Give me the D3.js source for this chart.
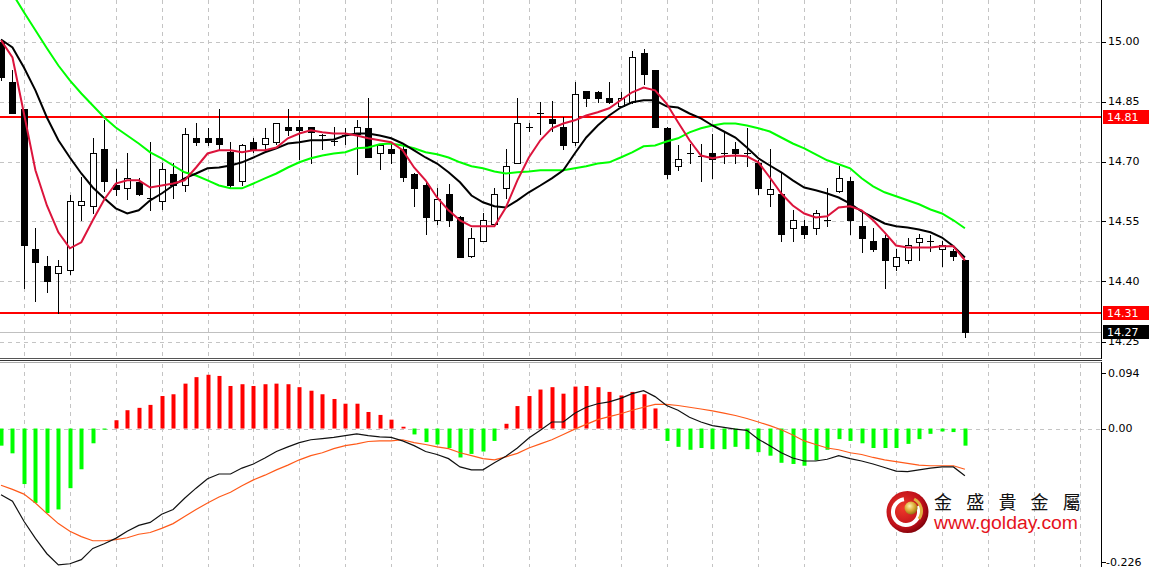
<!DOCTYPE html>
<html><head><meta charset="utf-8">
<script src="https://cdn.jsdelivr.net/npm/d3@7"></script>
<style>body{margin:0;background:#fff;overflow:hidden}svg{display:block}</style>
</head><body><svg id="c" width="1151" height="567"></svg>
<script>
// ---- data ----
const opens=[15.00,14.8975,14.8325,14.4825,14.44,14.4225,14.43,14.5925,14.59,14.7325,
14.64,14.6325,14.6475,14.61,14.6025,14.67,14.64,14.76,14.76,14.76,
14.7225,14.6525,14.7475,14.745,14.7475,14.7875,14.7875,14.7875,14.765,14.7525,
14.765,14.77,14.7825,14.72,14.7325,14.7325,14.67,14.64,14.5525,14.62,
14.56,14.4625,14.5025,14.545,14.6325,14.695,14.7875,14.82,14.8075,14.785,
14.7475,14.8775,14.8725,14.86,14.84,14.8475,14.97,14.9275,14.7825,14.69,
14.72,14.715,14.72,14.72,14.7325,14.72,14.6975,14.62,14.62,14.5325,
14.54,14.5325,14.555,14.6275,14.6525,14.54,14.5025,14.51,14.44,14.4525,
14.50,14.5025,14.4825,14.4775,14.4525];
const highs=[15.005,14.9275,14.8325,14.5325,14.4625,14.455,14.615,14.66,14.76,14.8025,
14.6825,14.72,14.6575,14.7475,14.6975,14.6975,14.7825,14.7975,14.7825,14.8325,
14.7475,14.745,14.7575,14.7825,14.7975,14.8325,14.8025,14.7875,14.77,14.785,
14.7825,14.8025,14.86,14.74,14.745,14.745,14.6725,14.6525,14.6325,14.645,
14.565,14.5325,14.57,14.6325,14.7325,14.86,14.7975,14.8475,14.8525,14.81,
14.8975,14.8775,14.8775,14.8975,14.8725,14.9775,14.9825,14.9275,14.785,14.74,
14.745,14.745,14.77,14.7725,14.7475,14.7825,14.7025,14.7325,14.6725,14.5775,
14.5525,14.5775,14.6325,14.69,14.66,14.57,14.5325,14.515,14.4825,14.5075,
14.52,14.515,14.5025,14.4825,14.4525];
const lows=[14.905,14.82,14.3825,14.3525,14.3725,14.32,14.42,14.5525,14.5725,14.6275,
14.615,14.6075,14.615,14.5775,14.5825,14.61,14.6275,14.74,14.74,14.7325,
14.635,14.64,14.7225,14.7325,14.745,14.765,14.7075,14.6975,14.7325,14.74,
14.745,14.67,14.71,14.6825,14.6975,14.6525,14.59,14.52,14.545,14.54,
14.46,14.46,14.5025,14.545,14.61,14.695,14.7775,14.77,14.7775,14.7325,
14.74,14.8375,14.8475,14.845,14.835,14.845,14.895,14.785,14.6575,14.6775,
14.6975,14.6525,14.6575,14.695,14.6975,14.69,14.62,14.59,14.5025,14.5025,
14.51,14.52,14.54,14.6225,14.52,14.4725,14.4775,14.3825,14.4275,14.4475,
14.4525,14.4775,14.44,14.4525,14.2625];
const closes=[14.91,14.82,14.49,14.45,14.4025,14.44,14.6025,14.6025,14.72,14.6525,
14.63,14.6575,14.62,14.61,14.6825,14.64,14.77,14.7475,14.7475,14.745,
14.64,14.74,14.7325,14.76,14.7975,14.78,14.78,14.7725,14.765,14.7525,
14.765,14.7875,14.71,14.74,14.72,14.66,14.6325,14.56,14.6075,14.5525,
14.46,14.51,14.5525,14.62,14.69,14.7975,14.7875,14.82,14.7975,14.74,
14.87,14.86,14.86,14.8475,14.86,14.96,14.92,14.785,14.67,14.7075,
14.72,14.715,14.7075,14.72,14.72,14.72,14.6325,14.63,14.52,14.5525,
14.52,14.57,14.555,14.6575,14.5525,14.51,14.48,14.4525,14.46,14.49,
14.51,14.5025,14.49,14.4625,14.2725];
const maFast=[15.003,14.96,14.82,14.678,14.59,14.523,14.483,14.498,14.553,14.605,
14.645,14.653,14.653,14.635,14.64,14.645,14.653,14.685,14.72,14.728,
14.728,14.723,14.728,14.728,14.735,14.758,14.77,14.778,14.773,14.77,
14.77,14.765,14.758,14.753,14.748,14.728,14.685,14.653,14.61,14.578,
14.553,14.538,14.538,14.538,14.585,14.653,14.71,14.753,14.783,14.795,
14.803,14.815,14.823,14.833,14.853,14.873,14.885,14.878,14.845,14.798,
14.753,14.715,14.708,14.713,14.715,14.713,14.698,14.66,14.62,14.59,
14.57,14.56,14.563,14.585,14.588,14.578,14.553,14.523,14.49,14.485,
14.485,14.485,14.488,14.488,14.453];
const maMid=[15.005,14.985,14.935,14.878,14.81,14.753,14.71,14.67,14.635,14.608,
14.583,14.57,14.578,14.603,14.62,14.64,14.658,14.67,14.683,14.685,
14.69,14.698,14.71,14.723,14.733,14.745,14.748,14.753,14.753,14.755,
14.765,14.77,14.77,14.765,14.758,14.745,14.728,14.71,14.695,14.673,
14.648,14.615,14.598,14.588,14.585,14.603,14.623,14.64,14.658,14.678,
14.72,14.76,14.79,14.815,14.835,14.848,14.853,14.853,14.838,14.835,
14.82,14.808,14.79,14.775,14.76,14.735,14.708,14.69,14.673,14.653,
14.635,14.628,14.62,14.61,14.595,14.575,14.56,14.545,14.538,14.535,
14.53,14.523,14.51,14.488,14.46];
const maSlow=[15.165,15.12,15.073,15.028,14.983,14.94,14.903,14.87,14.84,14.81,
14.785,14.765,14.745,14.723,14.708,14.69,14.673,14.665,14.653,14.64,
14.633,14.633,14.645,14.658,14.67,14.685,14.698,14.708,14.715,14.72,
14.723,14.733,14.735,14.743,14.745,14.74,14.733,14.723,14.718,14.71,
14.698,14.688,14.683,14.675,14.67,14.673,14.675,14.678,14.678,14.678,
14.683,14.688,14.695,14.698,14.71,14.723,14.738,14.74,14.75,14.758,
14.773,14.783,14.79,14.795,14.795,14.79,14.783,14.775,14.76,14.745,
14.733,14.718,14.703,14.693,14.683,14.658,14.638,14.623,14.613,14.603,
14.593,14.58,14.57,14.553,14.533];
const macdHist=[-0.029,-0.042,-0.094,-0.126,-0.143,-0.137,-0.101,-0.069,-0.025,-0.002,
0.014,0.031,0.035,0.040,0.055,0.058,0.076,0.087,0.091,0.089,
0.072,0.075,0.072,0.075,0.076,0.075,0.070,0.064,0.058,0.050,
0.042,0.042,0.028,0.023,0.015,0.003,-0.010,-0.023,-0.027,-0.033,
-0.049,-0.043,-0.039,-0.021,0.008,0.038,0.055,0.066,0.070,0.059,
0.071,0.072,0.070,0.062,0.056,0.062,0.058,0.034,-0.021,-0.031,
-0.036,-0.033,-0.035,-0.035,-0.031,-0.035,-0.040,-0.046,-0.058,-0.060,
-0.063,-0.054,-0.036,-0.018,-0.021,-0.025,-0.033,-0.033,-0.033,-0.026,
-0.018,-0.009,-0.005,-0.006,-0.029];
const macdMain=[-0.112,-0.123,-0.157,-0.186,-0.212,-0.231,-0.229,-0.222,-0.203,-0.195,
-0.186,-0.174,-0.164,-0.159,-0.145,-0.137,-0.118,-0.101,-0.085,-0.077,
-0.077,-0.067,-0.060,-0.050,-0.039,-0.031,-0.024,-0.019,-0.017,-0.015,
-0.012,-0.009,-0.012,-0.014,-0.015,-0.021,-0.029,-0.039,-0.044,-0.051,
-0.065,-0.070,-0.070,-0.058,-0.047,-0.033,-0.016,-0.003,0.011,0.011,
0.026,0.036,0.042,0.045,0.051,0.059,0.064,0.054,0.039,0.031,
0.019,0.011,0.005,0.002,-0.001,-0.003,-0.018,-0.029,-0.041,-0.050,
-0.055,-0.055,-0.052,-0.046,-0.051,-0.055,-0.060,-0.066,-0.072,-0.073,
-0.070,-0.067,-0.065,-0.065,-0.080];
const macdSignal=[-0.096,-0.103,-0.111,-0.126,-0.144,-0.161,-0.174,-0.183,-0.190,-0.190,
-0.188,-0.185,-0.179,-0.176,-0.169,-0.161,-0.149,-0.137,-0.126,-0.116,
-0.108,-0.097,-0.087,-0.079,-0.070,-0.062,-0.053,-0.046,-0.041,-0.034,
-0.029,-0.026,-0.022,-0.021,-0.021,-0.019,-0.024,-0.027,-0.031,-0.034,
-0.041,-0.046,-0.051,-0.053,-0.048,-0.042,-0.033,-0.026,-0.019,-0.010,
-0.001,0.007,0.015,0.020,0.025,0.031,0.036,0.041,0.041,0.039,
0.036,0.033,0.030,0.026,0.022,0.017,0.011,0.005,-0.002,-0.011,
-0.021,-0.027,-0.033,-0.036,-0.041,-0.044,-0.049,-0.053,-0.056,-0.059,
-0.062,-0.063,-0.063,-0.063,-0.069];
const priceTicks=[15.00,14.85,14.70,14.55,14.40,14.25];
const macdTicks=[0.094,0.00,-0.226];
const macdTickLabels=["0.094","0.00","-0.226"];
const levelValues=[14.81,14.321];
const levelLabels=["14.81","14.31"];
const brandName="金盛貴金屬";
const brandUrl="www.golday.com";

// ---- layout ----
const W=1151,H=567,AX=1101,mainBottom=358,subTop=363;
const svg=d3.select("#c");
const n=closes.length;
const x=d3.scaleLinear().domain([0,n-1]).range([1,964.9]);
const yP=d3.scaleLinear().domain([14.25,15.00]).range([341.5,41.5]);
const yM=d3.scaleLinear().domain([-0.226,0.094]).range([562,373]);
const px=v=>Math.round(v)+0.5;

const defs=svg.append("defs");
defs.append("clipPath").attr("id","cm").append("rect").attr("x",0).attr("y",0).attr("width",AX).attr("height",mainBottom);
defs.append("clipPath").attr("id","cs").append("rect").attr("x",0).attr("y",subTop).attr("width",AX).attr("height",H-subTop);
const rg=defs.append("radialGradient").attr("id","rg").attr("cx","40%").attr("cy","40%").attr("r","65%");
rg.append("stop").attr("offset","0%").attr("stop-color","#f03a2a");
rg.append("stop").attr("offset","70%").attr("stop-color","#c0101a");
rg.append("stop").attr("offset","100%").attr("stop-color","#7a0008");
const gg=defs.append("radialGradient").attr("id","gg").attr("cx","40%").attr("cy","35%").attr("r","70%");
gg.append("stop").attr("offset","0%").attr("stop-color","#fff3b0");
gg.append("stop").attr("offset","55%").attr("stop-color","#d8a830");
gg.append("stop").attr("offset","100%").attr("stop-color","#8a6410");

// grid
const gridC="#c4c4c4";
const vIdx=d3.range(2,96,4);
const grid=svg.append("g").attr("stroke",gridC).attr("stroke-width",1).attr("stroke-dasharray","4,4");
grid.selectAll(".vm").data(vIdx).join("line").attr("x1",d=>px(x(d))).attr("x2",d=>px(x(d))).attr("y1",0).attr("y2",mainBottom-1);
grid.selectAll(".vs").data(vIdx).join("line").attr("x1",d=>px(x(d))).attr("x2",d=>px(x(d))).attr("y1",subTop+1).attr("y2",H);
grid.selectAll(".hm").data(priceTicks).join("line").attr("x1",0).attr("x2",AX).attr("y1",d=>px(yP(d))).attr("y2",d=>px(yP(d)));
grid.append("line").attr("x1",0).attr("x2",AX).attr("y1",px(yM(0))).attr("y2",px(yM(0)));

// main panel
const main=svg.append("g").attr("clip-path","url(#cm)");
main.append("line").attr("x1",0).attr("x2",AX).attr("y1",px(yP(closes[n-1]))).attr("y2",px(yP(closes[n-1]))).attr("stroke","#c0c0c0");
main.selectAll(".lvl").data(levelValues).join("line").attr("x1",0).attr("x2",AX)
  .attr("y1",d=>Math.round(yP(d))).attr("y2",d=>Math.round(yP(d))).attr("stroke","#ff0000").attr("stroke-width",2);

// candles
const cg=main.append("g");
d3.range(n).forEach(i=>{
  const cx=px(x(i));
  cg.append("line").attr("x1",cx).attr("x2",cx).attr("y1",Math.round(yP(highs[i]))).attr("y2",Math.round(yP(lows[i]))+1).attr("stroke","#000");
  const yo=Math.round(yP(opens[i])), yc=Math.round(yP(closes[i]));
  const top=Math.min(yo,yc), h=Math.abs(yo-yc);
  if(h<1){
    cg.append("line").attr("x1",cx-3.5).attr("x2",cx+3.5).attr("y1",top+0.5).attr("y2",top+0.5).attr("stroke","#000");
  } else if(closes[i]<opens[i]){
    cg.append("rect").attr("x",cx-3.5).attr("y",top).attr("width",7).attr("height",h+1).attr("fill","#000");
  } else {
    cg.append("rect").attr("x",cx-3).attr("y",top+0.5).attr("width",6).attr("height",h).attr("fill","#fff").attr("stroke","#000");
  }
});

// moving averages
const lineP=d3.line().x((d,i)=>x(i)).y(d=>yP(d));
main.append("path").datum(maSlow).attr("d",lineP).attr("fill","none").attr("stroke","#00ff00").attr("stroke-width",2);
main.append("path").datum(maMid).attr("d",lineP).attr("fill","none").attr("stroke","#000").attr("stroke-width",2);
main.append("path").datum(maFast).attr("d",lineP).attr("fill","none").attr("stroke","#dc143c").attr("stroke-width",2);

// MACD panel
const sub=svg.append("g").attr("clip-path","url(#cs)");
sub.selectAll(".bar").data(macdHist).join("rect")
  .attr("x",(d,i)=>Math.round(x(i))-1.5).attr("width",4)
  .attr("y",d=>Math.min(yM(d),yM(0))).attr("height",d=>Math.max(1,Math.abs(yM(d)-yM(0))))
  .attr("fill",d=>d>=0?"#ff0000":"#00ff00");
const lineM=d3.line().x((d,i)=>x(i)).y(d=>yM(d));
sub.append("path").datum(macdSignal).attr("d",lineM).attr("fill","none").attr("stroke","#ff5a1a").attr("stroke-width",1.2);
sub.append("path").datum(macdMain).attr("d",lineM).attr("fill","none").attr("stroke","#111").attr("stroke-width",1.2);

// panel separators and axis
svg.append("line").attr("x1",0).attr("x2",AX+1).attr("y1",mainBottom+0.5).attr("y2",mainBottom+0.5).attr("stroke","#555");
svg.append("line").attr("x1",0).attr("x2",AX+1).attr("y1",mainBottom+2.5).attr("y2",mainBottom+2.5).attr("stroke","#333");
svg.append("line").attr("x1",0).attr("x2",AX+1).attr("y1",subTop-0.5).attr("y2",subTop-0.5).attr("stroke","#aaa");
svg.append("line").attr("x1",AX+0.5).attr("x2",AX+0.5).attr("y1",0).attr("y2",mainBottom+1).attr("stroke","#000");
svg.append("line").attr("x1",AX+0.5).attr("x2",AX+0.5).attr("y1",subTop-1).attr("y2",H).attr("stroke","#000");

const font="'DejaVu Sans', Tahoma, sans-serif";
const ax=svg.append("g").attr("font-family",font).attr("font-size","11px").attr("fill","#000");
ax.selectAll(".tk").data(priceTicks).join("line").attr("x1",AX+1).attr("x2",AX+5).attr("y1",d=>px(yP(d))).attr("y2",d=>px(yP(d))).attr("stroke","#000");
ax.selectAll(".tl").data(priceTicks).join("text").attr("x",1108).attr("y",d=>yP(d)).attr("dy","0.36em").text(d=>d3.format(".2f")(d));
ax.selectAll(".mk").data(macdTicks).join("line").attr("x1",AX+1).attr("x2",AX+5).attr("y1",d=>px(yM(d))).attr("y2",d=>px(yM(d))).attr("stroke","#000");
ax.selectAll(".ml").data(macdTicks).join("text").attr("x",(d,i)=>i===2?1106:1108).attr("y",d=>yM(d)).attr("dy","0.36em").text((d,i)=>macdTickLabels[i]);

// price boxes
function box(val,label,fill,yy){
  const g=svg.append("g");
  g.append("rect").attr("x",AX+2).attr("y",yy-7).attr("width",46).attr("height",14).attr("fill",fill);
  g.append("text").attr("x",1107).attr("y",yy).attr("dy","0.36em").attr("font-family",font).attr("font-size","11px").attr("fill","#fff").text(label);
}
levelValues.forEach((v,i)=>box(v,levelLabels[i],"#ff0000",Math.round(yP(v))));
box(closes[n-1],d3.format(".2f")(closes[n-1]),"#000",Math.round(yP(closes[n-1])));

// logo
const lg=svg.append("g");
lg.append("circle").attr("cx",907.5).attr("cy",512).attr("r",21).attr("fill","url(#rg)");
lg.append("path").attr("d",d3.arc()({innerRadius:11,outerRadius:15,startAngle:0.35*Math.PI,endAngle:1.95*Math.PI})).attr("transform","translate(906,512)").attr("fill","#fff");
lg.append("path").attr("d",d3.arc()({innerRadius:12,outerRadius:15,startAngle:0.15*Math.PI,endAngle:0.7*Math.PI})).attr("transform","translate(908,511)").attr("fill","#e0b040");
lg.append("circle").attr("cx",911).attr("cy",508).attr("r",6.5).attr("fill","url(#gg)");
lg.append("text").attr("x",934).attr("y",509).attr("font-family","'Noto Sans CJK TC','Noto Sans CJK SC',sans-serif").attr("font-size","18px").attr("letter-spacing","14.2px").attr("fill","#111").text(brandName);
lg.append("text").attr("x",934).attr("y",529).attr("font-family","'Liberation Sans',Arial,sans-serif").attr("font-size","18px").attr("textLength",144).attr("lengthAdjust","spacingAndGlyphs").attr("fill","#e5131b").text(brandUrl);
</script></body></html>
